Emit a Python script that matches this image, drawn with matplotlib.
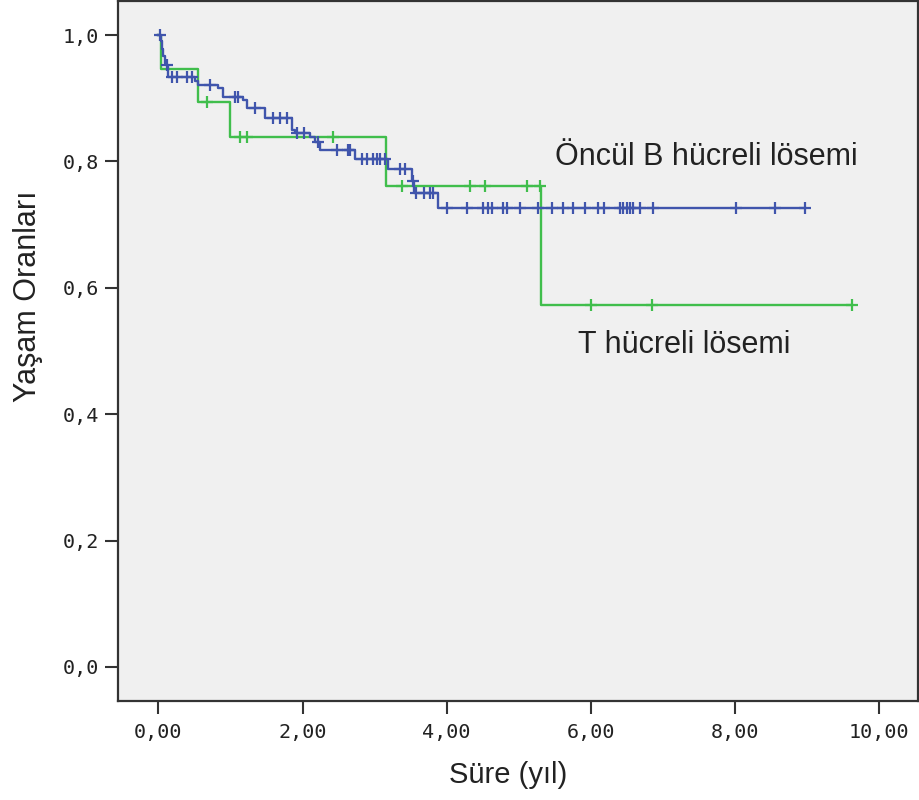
import numpy as np
import matplotlib
matplotlib.use("Agg")
import matplotlib.pyplot as plt
from matplotlib.ticker import FixedLocator, FuncFormatter

# Öncül B hücreli lösemi: event times and survival after each step
b_event_t = [0.03, 0.05, 0.07, 0.09, 0.11, 0.14, 0.51, 0.55, 0.83, 0.90, 1.17, 1.23,
             1.48, 1.85, 1.90, 2.10, 2.18, 2.24, 2.73, 3.18, 3.52, 3.55, 3.88]
b_event_s = [0.990, 0.978, 0.967, 0.956, 0.953, 0.934, 0.928, 0.921, 0.916, 0.902, 0.897, 0.884,
             0.869, 0.850, 0.845, 0.839, 0.831, 0.818, 0.804, 0.788, 0.769, 0.750, 0.726]
b_censor_t = [0.02, 0.12, 0.19, 0.26, 0.40, 0.47, 0.72, 1.06, 1.11, 1.34, 1.59, 1.69, 1.78,
              1.92, 2.02, 2.21, 2.48, 2.63, 2.66, 2.82, 2.89, 2.98, 3.03, 3.07, 3.14,
              3.35, 3.42, 3.53, 3.58, 3.68, 3.77, 3.81, 4.00, 4.28, 4.50, 4.58, 4.63,
              4.78, 4.84, 5.02, 5.27, 5.46, 5.61, 5.75, 5.92, 6.10, 6.19, 6.40, 6.44,
              6.50, 6.54, 6.58, 6.68, 6.86, 8.01, 8.55, 8.97]

# T hücreli lösemi
t_event_t = [0.03, 0.55, 1.00, 3.16, 5.31]
t_event_s = [0.946, 0.894, 0.839, 0.761, 0.573]
t_censor_t = [0.67, 1.13, 1.23, 2.43, 3.38, 4.32, 4.53, 5.11, 5.29, 6.00, 6.85, 9.63]

x_ticks = [0, 2, 4, 6, 8, 10]
y_ticks = [0.0, 0.2, 0.4, 0.6, 0.8, 1.0]

blue = "#4055AC"
green = "#40BE4C"


def km_curve(ax, ev_t, ev_s, cen_t, color):
    end = max(cen_t[-1], ev_t[-1])
    tt = np.array([0.0] + list(ev_t) + [end])
    ss = np.array([1.0] + list(ev_s) + [ev_s[-1]])
    ax.step(tt, ss, where="post", color=color, lw=1.7, zorder=3)
    idx = np.searchsorted(tt, cen_t, side="right") - 1
    ax.plot(cen_t, ss[idx], "+", color=color, ms=9, mew=1.6, zorder=4)


fig = plt.figure(figsize=(9.19, 8.0), dpi=100)
ax = fig.add_axes([118 / 919, 1 - 701 / 800, 800 / 919, 700 / 800])
ax.set_facecolor("#F0F0F0")

km_curve(ax, t_event_t, t_event_s, t_censor_t, green)
km_curve(ax, b_event_t, b_event_s, b_censor_t, blue)

ax.set_xlim(-0.56, 10.54)
ax.set_ylim(-0.054, 1.054)
ax.xaxis.set_major_locator(FixedLocator(x_ticks))
ax.yaxis.set_major_locator(FixedLocator(y_ticks))
ax.xaxis.set_major_formatter(FuncFormatter(lambda v, p: f"{v:.2f}".replace(".", ",")))
ax.yaxis.set_major_formatter(FuncFormatter(lambda v, p: f"{v:.1f}".replace(".", ",")))
ax.tick_params(direction="out", length=9.5, width=1.5, color="#333333", pad=4,
               labelsize=14.5, labelcolor="#222222")
ax.tick_params(axis="x", pad=6)
for lab in ax.get_xticklabels() + ax.get_yticklabels():
    lab.set_family("DejaVu Sans Mono")
for s in ax.spines.values():
    s.set_color("#333333")
    s.set_linewidth(1.6)

fig.text(508 / 919, 1 - 775 / 800, "Süre (yıl)", ha="center", va="center",
         family="Liberation Sans", size=21, color="#222222")
fig.text(28 / 919, 1 - 296 / 800, "Yaşam Oranları", ha="center", va="center",
         rotation=90, family="Liberation Sans", size=22, color="#222222")

note_font = dict(family="Liberation Sans", size=22, color="#222222")
ax.text(7.60, 0.794, "Öncül B hücreli lösemi", ha="center", va="baseline", **note_font)
ax.text(7.30, 0.497, "T hücreli lösemi", ha="center", va="baseline", **note_font)

fig.savefig("out.png", dpi=100)
